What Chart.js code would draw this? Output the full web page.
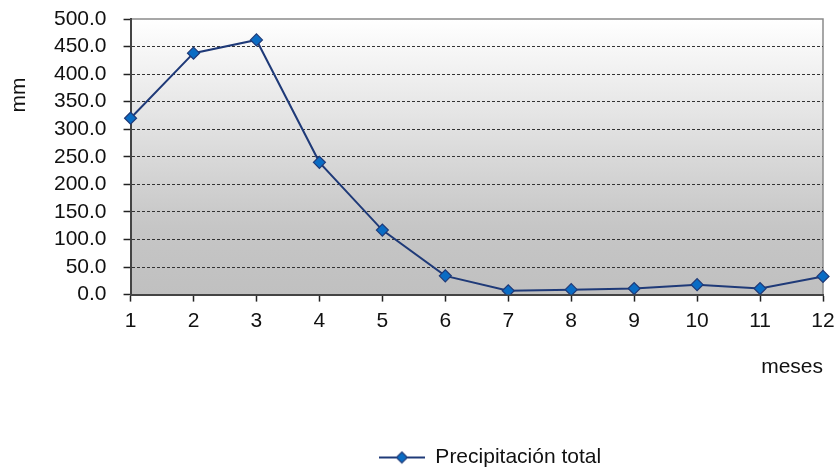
<!DOCTYPE html>
<html>
<head>
<meta charset="utf-8">
<script src="https://cdn.jsdelivr.net/npm/chart.js@4"></script>
<style>
  html, body { margin: 0; padding: 0; background: #fff; }
  #wrap { width: 835px; height: 469px; }
</style>
</head>
<body>
<div id="wrap"><canvas id="c"></canvas></div>
<script>
// datos
const meses = ['1', '2', '3', '4', '5', '6', '7', '8', '9', '10', '11', '12'];
const precipitacion = [320, 438, 462, 240, 117, 34, 7, 9, 11, 18, 11, 33];
const yTicks = [0, 50, 100, 150, 200, 250, 300, 350, 400, 450, 500];

const lineColor = '#1F3A78';
const markerFill = '#0A6CC4';
const FONT = 'Liberation Sans, Arial, sans-serif';
const FS = 21;

// icono de la leyenda: línea con rombo
function legendIcon() {
  const cv = document.createElement('canvas');
  cv.width = 46; cv.height = 14;
  const g = cv.getContext('2d');
  g.strokeStyle = lineColor; g.lineWidth = 2;
  g.beginPath(); g.moveTo(0, 7); g.lineTo(46, 7); g.stroke();
  g.fillStyle = markerFill;
  g.beginPath(); g.moveTo(23, 1.5); g.lineTo(28.5, 7); g.lineTo(23, 12.5); g.lineTo(17.5, 7); g.closePath();
  g.fill(); g.lineWidth = 1.2; g.stroke();
  return cv;
}

const plotBg = {
  id: 'plotBg',
  afterLayout(chart) {
    // la leyenda del original está algo más abajo y a la derecha
    chart.legend.top += 9;
    chart.legend.bottom += 9;
    chart.legend.left += 54;
    chart.legend.right += 54;
  },
  beforeDraw(chart) {
    const { ctx, chartArea: a } = chart;
    const grad = ctx.createLinearGradient(0, a.top, 0, a.bottom);
    grad.addColorStop(0, '#ffffff');
    grad.addColorStop(0.75, '#c6c6c6');
    grad.addColorStop(1, '#c0c0c0');
    ctx.save();
    ctx.fillStyle = grad;
    ctx.fillRect(a.left, a.top, a.right - a.left, a.bottom - a.top);
    ctx.strokeStyle = '#8a8a8a';
    ctx.lineWidth = 1.5;
    ctx.beginPath();
    ctx.moveTo(a.left, a.top); ctx.lineTo(a.right, a.top); ctx.lineTo(a.right, a.bottom);
    ctx.stroke();
    ctx.restore();
  },
  afterDraw(chart) {
    const { ctx, chartArea: a } = chart;
    ctx.save();
    ctx.fillStyle = '#111';
    ctx.font = FS + 'px ' + FONT;
    ctx.translate(19, a.top + 76);
    ctx.rotate(-Math.PI / 2);
    ctx.textAlign = 'center';
    ctx.textBaseline = 'middle';
    ctx.fillText('mm', 0, 0);
    ctx.restore();
  }
};

new Chart(document.getElementById('c'), {
  type: 'line',
  data: {
    labels: meses,
    datasets: [{
      label: 'Precipitación total',
      data: precipitacion,
      borderColor: lineColor,
      borderWidth: 2,
      backgroundColor: markerFill,
      pointStyle: 'rectRot',
      pointRadius: 6,
      pointHoverRadius: 6,
      pointBackgroundColor: markerFill,
      pointBorderColor: lineColor,
      pointBorderWidth: 1.2,
      tension: 0,
      fill: false
    }]
  },
  options: {
    responsive: true,
    maintainAspectRatio: false,
    animation: false,
    layout: { padding: { left: 37, top: 19, right: 0, bottom: 0 } },
    plugins: {
      tooltip: { enabled: false },
      legend: {
        position: 'bottom',
        labels: {
          color: '#111',
          padding: 4,
          font: { family: FONT, size: FS },
          usePointStyle: true,
          pointStyleWidth: 46,
          generateLabels: () => [{
            text: 'Precipitación total',
            pointStyle: legendIcon(),
            fontColor: '#111',
            lineWidth: 0,
            strokeStyle: 'transparent',
            fillStyle: 'transparent'
          }]
        }
      }
    },
    scales: {
      x: {
        type: 'category',
        offset: false,
        afterFit: (s) => { s.paddingRight = 12; },
        grid: { drawOnChartArea: false, tickLength: 7, tickColor: '#222', tickWidth: 1.5 },
        border: { color: '#444', width: 2 },
        ticks: { color: '#111', font: { family: FONT, size: FS }, padding: 7, maxRotation: 0, autoSkip: false },
        title: {
          display: true, text: 'meses', align: 'end', color: '#111',
          font: { family: FONT, size: FS }, padding: { top: 14, bottom: 54 }
        }
      },
      y: {
        min: 0, max: 500,
        afterBuildTicks: (s) => { s.ticks = yTicks.map(v => ({ value: v })); },
        afterFit: (s) => { s.paddingTop = 0; },
        grid: {
          color: (c) => (c.tick && (c.tick.value === 0 || c.tick.value === 500)) ? 'rgba(0,0,0,0)' : '#333',
          lineWidth: 1,
          tickLength: 7,
          tickColor: '#222',
          tickWidth: 1.5,
          tickBorderDash: []
        },
        border: { color: '#444', width: 2, dash: [3, 2] },
        ticks: {
          color: '#111', font: { family: FONT, size: FS }, padding: 17, autoSkip: false,
          callback: (v) => Number(v).toFixed(1)
        }
      }
    }
  },
  plugins: [plotBg]
});
</script>
</body>
</html>
